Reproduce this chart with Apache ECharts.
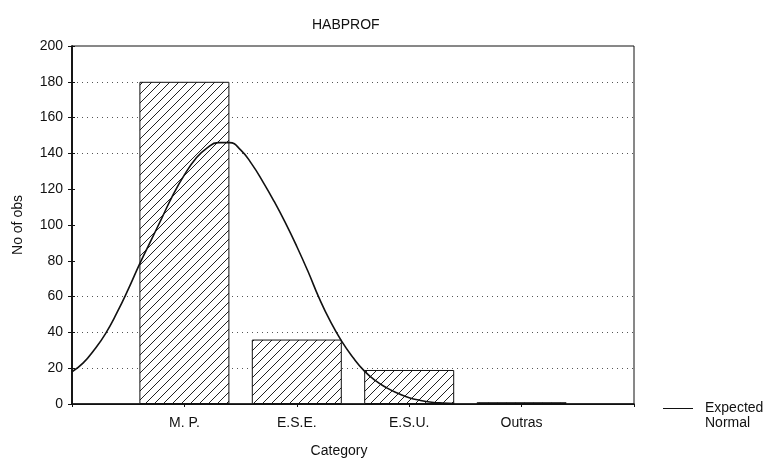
<!DOCTYPE html>
<html>
<head>
<meta charset="utf-8">
<script src="https://cdn.jsdelivr.net/npm/echarts@6/dist/echarts.min.js"></script>
<style>
  html, body { margin: 0; padding: 0; background: #fff; }
  #chart { width: 763px; height: 463px; }
</style>
</head>
<body>
<div id="chart"></div>
<script>
// categories sit at x = 1..4 on the value axis
var categories = ['M. P.', 'E.S.E.', 'E.S.U.', 'Outras']
var categoryPos = [1, 2, 3, 4]
var counts = [180, 36, 19, 1]

// expected normal curve, every 0.1 category
var normalX = [0, 0.1, 0.2, 0.3, 0.4, 0.5, 0.6, 0.7, 0.8, 0.9, 1.0, 1.1, 1.2, 1.3, 1.4, 1.5, 1.6, 1.7, 1.8, 1.9, 2.0, 2.1, 2.2, 2.3, 2.4, 2.5, 2.6, 2.7, 2.8, 2.9, 3.0, 3.1, 3.2, 3.3, 3.4]
var normalY = [18, 23, 30.5, 39.5, 51, 64, 78, 91, 104, 117, 128, 137, 143, 146, 146, 142, 134, 124, 113, 101, 88, 74, 59, 46, 35, 26, 18.5, 13, 9, 6, 3.5, 2, 1, 0.5, 0.2]

var yTicks = [0, 20, 40, 60, 80, 100, 120, 140, 160, 180, 200]

// hatch pattern for the bars
var hatch = document.createElement('canvas')
hatch.width = 9
hatch.height = 9
var hctx = hatch.getContext('2d')
hctx.fillStyle = '#fff'
hctx.fillRect(0, 0, 9, 9)
hctx.strokeStyle = '#222'
hctx.lineWidth = 1
hctx.beginPath()
hctx.moveTo(-1, 1); hctx.lineTo(1, -1)
hctx.moveTo(0, 9); hctx.lineTo(9, 0)
hctx.moveTo(8, 10); hctx.lineTo(10, 8)
hctx.stroke()

var barData = []
for (var i = 0; i < counts.length; i++) {
  barData.push([categoryPos[i], counts[i]])
}
var curveData = []
for (var i = 0; i < normalX.length; i++) {
  curveData.push([normalX[i], normalY[i]])
}

// some grid lines are missing in the original
var gridColors = yTicks.map(function (v) {
  return (v === 0 || v === 200 || v === 80 || v === 100 || v === 120) ? 'rgba(0,0,0,0)' : '#555'
})

var font = 'Liberation Sans'
var chart = echarts.init(document.getElementById('chart'))
var option = {
  backgroundColor: '#fff',
  animation: false,
  textStyle: { fontFamily: font },
  title: {
    text: 'HABPROF',
    left: 307,
    top: 13,
    textStyle: { fontFamily: font, fontSize: 14, fontWeight: 'normal', color: '#111' }
  },
  legend: {
    left: 658,
    top: 381,
    icon: 'rect',
    itemWidth: 30,
    itemHeight: 1,
    data: ['Expected Normal'],
    formatter: function () { return '\nExpected\nNormal' },
    textStyle: { fontFamily: font, fontSize: 14, color: '#111', lineHeight: 15, padding: [0, 0, 0, 7] }
  },
  grid: {
    left: 72,
    right: 129,
    top: 46,
    bottom: 54,
    show: true,
    borderColor: '#111',
    borderWidth: 1,
    backgroundColor: '#fff'
  },
  xAxis: [
    {
      type: 'value',
      min: 0,
      max: 5,
      interval: 1,
      name: 'Category',
      nameLocation: 'middle',
      nameGap: 40,
      nameTextStyle: { fontFamily: font, fontSize: 14, color: '#111', padding: [0, 28, 0, 0] },
      axisLine: { lineStyle: { color: '#111', width: 1.5 } },
      axisTick: { show: false },
      splitLine: { show: false },
      axisLabel: {
        margin: 12,
        fontFamily: font,
        fontSize: 14,
        color: '#111',
        formatter: function (v) {
          var k = categoryPos.indexOf(v)
          return k >= 0 ? categories[k] : ''
        }
      }
    },
    {
      type: 'value',
      position: 'top',
      min: 0,
      max: 5,
      interval: 1,
      axisLine: { show: true, lineStyle: { color: '#111' } },
      axisTick: { show: true, inside: true, length: 3, lineStyle: { color: '#111' } },
      axisLabel: { show: false },
      splitLine: { show: false }
    }
  ],
  yAxis: [
    {
      type: 'value',
      min: 0,
      max: 200,
      interval: 20,
      name: 'No of obs',
      nameLocation: 'middle',
      nameGap: 47,
      nameTextStyle: { fontFamily: font, fontSize: 14, color: '#111' },
      axisLine: { show: true, lineStyle: { color: '#111', width: 1.5 } },
      axisTick: { show: true, inside: true, length: 3, lineStyle: { color: '#111' } },
      axisLabel: { margin: 9, fontFamily: font, fontSize: 14, color: '#111' },
      splitLine: {
        show: true,
        showMinLine: true,
        showMaxLine: true,
        lineStyle: { color: gridColors, type: [1, 4], width: 1 }
      }
    },
    {
      type: 'value',
      position: 'right',
      min: 0,
      max: 200,
      interval: 20,
      axisLine: { show: true, lineStyle: { color: '#111', width: 1.5 } },
      axisTick: { show: true, inside: true, length: 4, lineStyle: { color: '#111' } },
      axisLabel: { show: false },
      splitLine: { show: false }
    }
  ],
  series: [
    {
      name: 'No of obs',
      type: 'bar',
      barWidth: 90,
      data: barData,
      itemStyle: {
        color: { image: hatch, repeat: 'repeat' },
        borderColor: '#111',
        borderWidth: 1
      },
      z: 2
    },
    {
      name: 'Expected Normal',
      type: 'line',
      smooth: 0.5,
      showSymbol: false,
      data: curveData,
      lineStyle: { color: '#111', width: 1.6 },
      itemStyle: { color: '#111' },
      z: 3
    }
  ]
}
chart.setOption(option)
</script>
</body>
</html>
